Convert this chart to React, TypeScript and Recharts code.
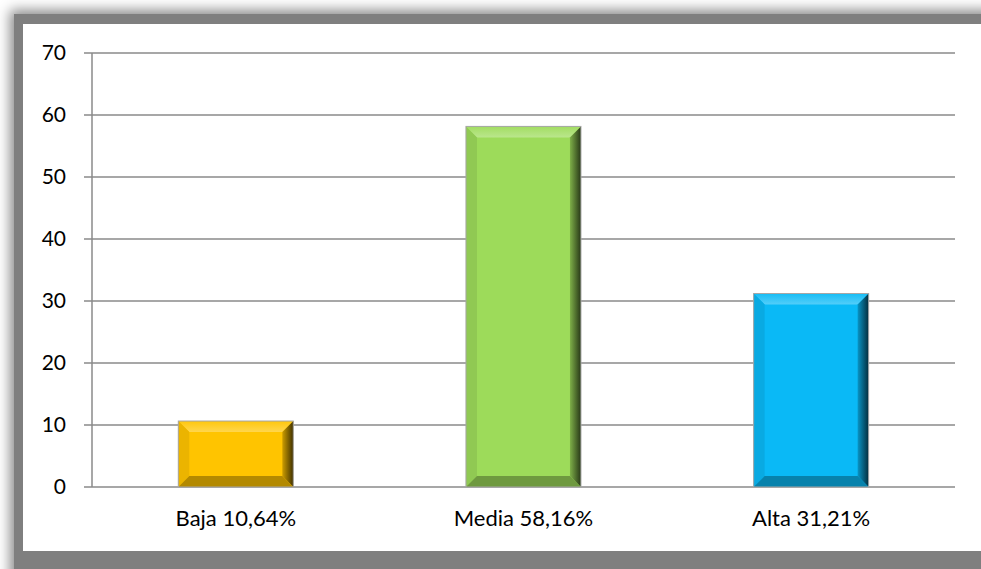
import React from "react";
import { BarChart, Bar, XAxis, YAxis, CartesianGrid, Cell } from "recharts";

const categories = ["Baja 10,64%", "Media 58,16%", "Alta 31,21%"];
const values = [10.64, 58.16, 31.21];
const barColors = ["#FFC400", "#9DDB5A", "#0AB9F6"];
const yTicks = [0, 10, 20, 30, 40, 50, 60, 70];
const edgeTicks = [0, 1, 2, 3];

const data = categories.map((name, i) => ({ name, value: values[i], color: barColors[i] }));

const GRID = "#8a8a8a";
const FONT = "Lato, 'Open Sans', sans-serif";

function shade(hex: string, f: number) {
  const n = parseInt(hex.slice(1), 16);
  let r = (n >> 16) & 255, g = (n >> 8) & 255, b = n & 255;
  const mix = (c: number) => (f >= 0 ? Math.round(c + (255 - c) * f) : Math.round(c * (1 + f)));
  r = mix(r); g = mix(g); b = mix(b);
  return `rgb(${r},${g},${b})`;
}

function BevelBar(props: any) {
  const { x, y, width: w, height: h, index, payload } = props;
  if (!w || !h) return null;
  const c = payload.color;
  const b = Math.min(11, h / 3, w / 3);
  const id = `rg${index}`;
  const tid = `tg${index}`;
  return (
    <g>
      <defs>
        <linearGradient id={id} x1="0" y1="0" x2="1" y2="0">
          <stop offset="0%" stopColor={shade(c, -0.2)} />
          <stop offset="100%" stopColor={shade(c, -0.75)} />
        </linearGradient>
        <linearGradient id={tid} x1="0" y1="0" x2="0" y2="1">
          <stop offset="0%" stopColor={shade(c, 0.05)} />
          <stop offset="100%" stopColor={shade(c, 0.3)} />
        </linearGradient>
      </defs>
      <rect x={x} y={y} width={w} height={h} fill={c} />
      <polygon points={`${x},${y} ${x + w},${y} ${x + w - b},${y + b} ${x + b},${y + b}`} fill={`url(#${tid})`} />
      <polygon points={`${x},${y} ${x + b},${y + b} ${x + b},${y + h - b} ${x},${y + h}`} fill={shade(c, -0.08)} />
      <polygon points={`${x + w},${y} ${x + w},${y + h} ${x + w - b},${y + h - b} ${x + w - b},${y + b}`} fill={`url(#${id})`} />
      <polygon points={`${x},${y + h} ${x + b},${y + h - b} ${x + w - b},${y + h - b} ${x + w},${y + h}`} fill={shade(c, -0.3)} />
      <rect x={x} y={y} width={w} height={h} fill="none" stroke="#a6a6a6" strokeWidth={1} />
    </g>
  );
}

export default function App() {
  return (
    <div style={{ position: "absolute", left: 0, top: 0, width: 981, height: 569, background: "#fff", overflow: "hidden" }}>
      <div
        style={{
          position: "absolute",
          left: 14,
          top: 14,
          width: 1000,
          height: 600,
          background: "#7f7f7f",
          boxShadow: "0 0 12px 4px #8a8a8a",
        }}
      />
      <div style={{ position: "absolute", left: 23, top: 24, width: 958, height: 527, background: "#fff" }}>
        <BarChart
          width={958}
          height={527}
          data={data}
          margin={{ top: 29, right: 26, bottom: 0, left: 0 }}
          barCategoryGap="30%"
        >
          <CartesianGrid vertical={false} stroke={GRID} strokeWidth={1.5} />
          <XAxis
            dataKey="name"
            axisLine={false}
            tickLine={false}
            tickSize={8}
            tickMargin={15}
            height={64}
            tick={{ fill: "#000", fontSize: 22, fontFamily: FONT }}
          />
          <XAxis
            xAxisId="edges"
            type="number"
            domain={[0, 3]}
            ticks={edgeTicks}
            allowDataOverflow
            tick={false}
            tickSize={8}
            height={0}
            axisLine={{ stroke: GRID, strokeWidth: 1.5 }}
            tickLine={{ stroke: GRID, strokeWidth: 1.5 }}
          />
          <YAxis
            domain={[0, 70]}
            ticks={yTicks}
            width={69}
            tickSize={8}
            tickMargin={18}
            axisLine={{ stroke: GRID, strokeWidth: 1.5 }}
            tickLine={{ stroke: GRID, strokeWidth: 1.5 }}
            tick={{ fill: "#000", fontSize: 21, fontFamily: FONT }}
          />
          <Bar dataKey="value" isAnimationActive={false} shape={BevelBar}>
            {data.map((d, i) => (
              <Cell key={i} fill={d.color} />
            ))}
          </Bar>
        </BarChart>
      </div>
    </div>
  );
}
